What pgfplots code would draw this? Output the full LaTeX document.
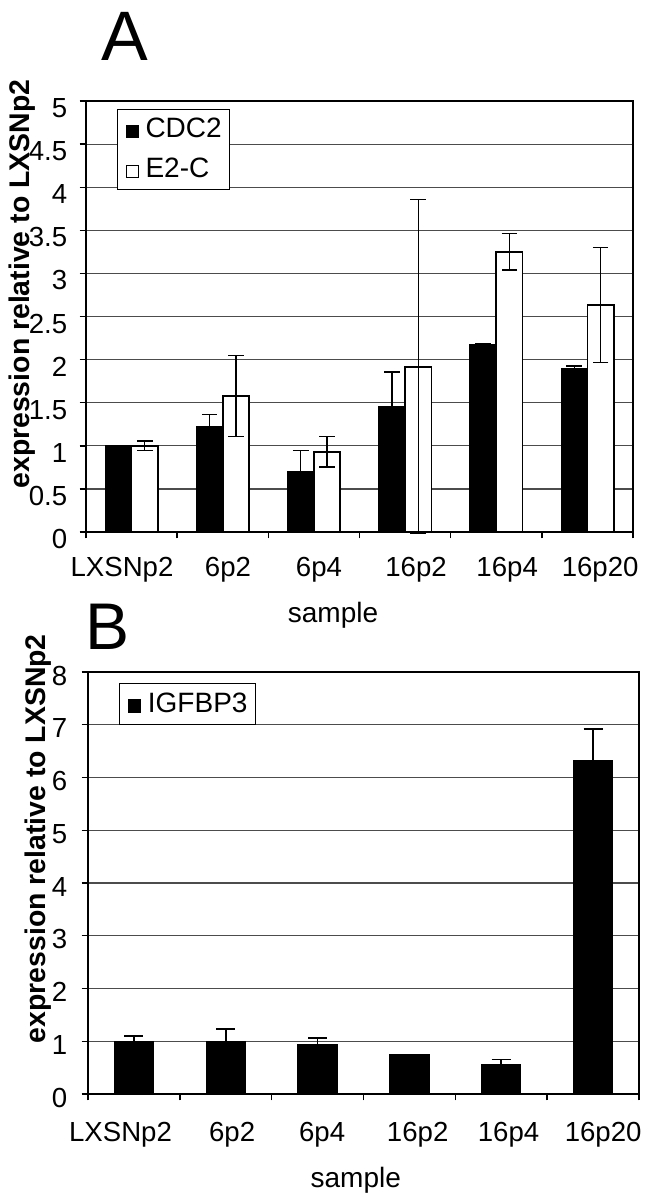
\documentclass[border=0pt]{standalone}
\usepackage{fontspec}
\setmainfont{Liberation Sans}
\usepackage{pgfplots}
\pgfplotsset{compat=1.18}

\pgfplotsset{
  panel/.style={
    scale only axis,
    xmin=0, xmax=6,
    enlargelimits=false,
    clip=false,
    tick align=outside,
    tick pos=left,
    major tick length=3.2pt,
    xtick={0,1,2,3,4,5,6},
    xticklabels={,,,,,,},
    extra x tick style={major tick length=0pt},
    ymajorgrids,
    major grid style={draw=black!70, line width=0.6pt},
    axis line style={line width=0.9pt},
    tick style={black, line width=0.7pt},
    /pgf/number format/assume math mode=true,
    tick label style={font=\fontsize{13.8}{16}\selectfont},
    xticklabel style={anchor=north, inner sep=0pt, yshift=-12.5pt},
    label style={font=\fontsize{14}{16}\selectfont},
    xlabel style={anchor=center},
    ylabel style={anchor=center, font=\fontsize{14.2}{16}\selectfont\bfseries},
    legend cell align=left,
  },
  lgd/.style={
    draw=black, line width=0.5pt, fill=white,
    inner xsep=4pt, inner ysep=4.5pt,
    nodes={inner sep=0pt, anchor=base west},
    row sep=8.75pt, column sep=3.5pt,
    font=\fontsize{14}{16}\selectfont,
  },
}

\begin{document}
\begin{tikzpicture}
\useasboundingbox (0,0) rectangle (325pt,-599.5pt);

\node[font=\fontsize{35}{40}\selectfont, inner sep=0pt] at (62.5pt,-18.1pt) {A};
\node[font=\fontsize{33}{38}\selectfont, inner sep=0pt] at (53.75pt,-313.25pt) {B};

% Panel A
\begin{axis}[panel,
  at={(43pt,-266pt)}, anchor=south west,
  width=273.5pt, height=215.5pt,
  ymin=0, ymax=5,
  ytick={0,0.5,1,1.5,2,2.5,3,3.5,4,4.5,5},
  yticklabel style={anchor=east, inner sep=0pt, xshift=-6pt, yshift=-3.5pt},
  ybar=0pt, bar width=13.15pt,
  extra x ticks={0.395,1.557,2.556,3.62,4.62,5.64},
  extra x tick labels={LXSNp2,6p2,6p4,16p2,16p4,16p20},
  xlabel={sample},
  ylabel={expression relative to LXSNp2},
  xlabel style={at={(axis description cs:0.4516,-0.1926)}},
  ylabel style={at={(axis description cs:-0.117,0.575)}},
  legend style={lgd, at={(axis description cs:0.0567,0.982)}, anchor=north west},
]
\addplot[fill=black, draw=black, line width=0.6pt,
  legend image code/.code={\draw[fill=black, draw=black, line width=0.5pt] (0pt,0pt) rectangle (6pt,6pt);},
  error bars/.cd, y dir=both, y explicit,
  error bar style={line width=0.7pt, black},
  error mark options={rotate=90, black, line width=0.7pt, mark size=3.9pt}]
coordinates {
  (0.5,1.00) +- (0,0.0)
  (1.5,1.228) +- (0,0.135)
  (2.5,0.697) +- (0,0.248)
  (3.5,1.46) +- (0,0.395)
  (4.5,2.169) +- (0,0.01)
  (5.5,1.89) +- (0,0.035)
};
\addlegendentry{CDC2}
\addplot[fill=white, draw=black, line width=0.8pt,
  legend image code/.code={\draw[fill=white, draw=black, line width=0.5pt] (0pt,0pt) rectangle (6pt,6pt);},
  error bars/.cd, y dir=both, y explicit,
  error bar style={line width=0.7pt, black},
  error mark options={rotate=90, black, line width=0.7pt, mark size=3.9pt}]
coordinates {
  (0.5,1.00) +- (0,0.054)
  (1.5,1.576) +- (0,0.47)
  (2.5,0.93) +- (0,0.175)
  (3.5,1.917) +- (0,1.937)
  (4.5,3.25) +- (0,0.21)
  (5.5,2.634) +- (0,0.665)
};
\addlegendentry{E2-C}
\end{axis}

% Panel B
\begin{axis}[panel,
  at={(44pt,-547pt)}, anchor=south west,
  width=275.5pt, height=211pt,
  ymin=0, ymax=8,
  ytick={0,1,2,3,4,5,6,7,8},
  yticklabel style={anchor=east, inner sep=0pt, xshift=-7pt, yshift=-1.75pt},
  xticklabel style={yshift=-1.5pt},
  ybar, bar width=19.5pt,
  extra x ticks={0.354,1.57,2.55,3.59,4.58,5.61},
  extra x tick labels={LXSNp2,6p2,6p4,16p2,16p4,16p20},
  xlabel={sample},
  ylabel={expression relative to LXSNp2},
  xlabel style={at={(axis description cs:0.486,-0.204)}},
  ylabel style={at={(axis description cs:-0.0907,0.605)}},
  legend style={lgd, at={(axis description cs:0.0563,0.974)}, anchor=north west},
]
\addplot[fill=black, draw=black, line width=0.6pt,
  legend image code/.code={\draw[fill=black, draw=black, line width=0.5pt] (0pt,0pt) rectangle (6.2pt,6.2pt);},
  error bars/.cd, y dir=plus, y explicit,
  error bar style={line width=0.9pt, black},
  error mark options={rotate=90, black, line width=0.9pt, mark size=4.75pt}]
coordinates {
  (0.5,1.00) +- (0,0.10)
  (1.5,0.99) +- (0,0.24)
  (2.5,0.93) +- (0,0.135)
  (3.5,0.74) +- (0,0.0)
  (4.5,0.554) +- (0,0.10)
  (5.5,6.317) +- (0,0.60)
};
\addlegendentry{IGFBP3}
\end{axis}
\end{tikzpicture}
\end{document}
